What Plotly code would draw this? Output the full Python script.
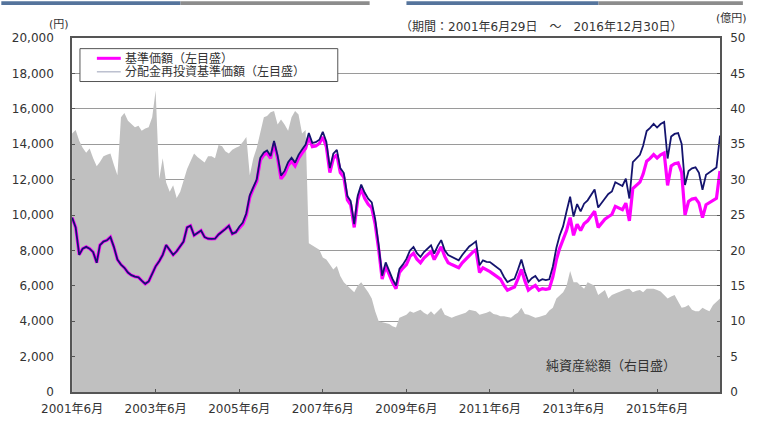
import pandas as pd
import plotly.graph_objects as go

# 基準価額 (円), monthly, 2001/6 - 2016/12
nav = [
    9850, 9300, 7750, 8100, 8200, 8100, 7900, 7300, 8300, 8500, 8570, 8750,
    8200, 7480, 7200, 7020, 6750, 6600, 6520, 6480, 6290, 6110, 6250, 6700,
    7100, 7390, 7750, 8300, 8000, 7750, 7950, 8200, 8500, 9300, 9390, 8850,
    9000, 9120, 8750, 8660, 8650, 8660, 8900, 9050, 9200, 9390, 8940, 9030,
    9250, 9480, 10000, 11000, 11500, 11900, 13100, 13400, 13500, 13200, 14040, 13220,
    12040, 12310, 12800, 13040, 12770, 13200, 13500, 13770, 14410, 13860, 13900, 14040,
    14410, 13860, 12400, 13200, 13410, 12400, 12130, 10850, 10580, 9300, 10850, 11490,
    10940, 10600, 10400, 9480, 8030, 6380, 7110, 6570, 6200, 5840, 6750, 7000,
    7200, 7660, 7840, 7500, 7300, 7570, 7750, 7930, 7480, 7900, 8210, 7660,
    7300, 7200, 7110, 7020, 7300, 7500, 7750, 7900, 8030, 6750, 7020, 6930,
    6800, 6660, 6500, 6380, 6020, 5750, 5850, 5930, 6380, 6930, 6290, 5750,
    5900, 6020, 5750, 5840, 5800, 5840, 6500, 7480, 8100, 8600, 9120, 9850,
    8850, 9480, 9120, 9500, 9670, 9940, 10210, 9300, 9500, 9760, 9900, 10030,
    10490, 10400, 10300, 10670, 9670, 11490, 11700, 11860, 12310, 13040, 13200, 13410,
    13220, 13400, 13500, 11670, 12770, 12900, 12950, 12400, 10000, 10760, 10900, 10940,
    10670, 9850, 10580, 10700, 10850, 10940, 12490,
]

# 分配金再投資基準価額 (円)
nav_reinv = [
    9850, 9300, 7750, 8100, 8200, 8100, 7900, 7300, 8300, 8500, 8570, 8750,
    8200, 7480, 7200, 7020, 6750, 6600, 6520, 6480, 6290, 6110, 6250, 6700,
    7100, 7390, 7750, 8300, 8000, 7750, 7950, 8200, 8500, 9300, 9390, 8850,
    9000, 9120, 8750, 8660, 8650, 8660, 8900, 9050, 9200, 9390, 8940, 9030,
    9340, 9570, 10100, 11110, 11620, 12020, 13230, 13530, 13640, 13330, 14180, 13350,
    12220, 12490, 12990, 13240, 12960, 13400, 13700, 13980, 14630, 14070, 14110, 14250,
    14700, 14140, 12650, 13460, 13680, 12650, 12370, 11070, 10790, 9490, 11070, 11720,
    11270, 10920, 10710, 9760, 8270, 6570, 7320, 6770, 6390, 6020, 6950, 7210,
    7520, 8000, 8190, 7840, 7630, 7910, 8100, 8290, 7820, 8260, 8580, 8000,
    7740, 7630, 7540, 7440, 7740, 7950, 8220, 8370, 8510, 7160, 7440, 7350,
    7340, 7190, 7020, 6890, 6500, 6210, 6320, 6400, 6890, 7480, 6790, 6210,
    6430, 6560, 6270, 6370, 6320, 6370, 7090, 8150, 8830, 9370, 10210, 11030,
    9910, 10620, 10210, 10640, 10830, 11130, 11440, 10420, 10640, 10930, 11190, 11330,
    11850, 11750, 11640, 12060, 10930, 12980, 13220, 13400, 13910, 14740, 14920, 15150,
    14940, 15140, 15260, 13190, 14430, 14580, 14630, 14010, 11700, 12480, 12640, 12690,
    12380, 11430, 12270, 12410, 12590, 12690, 14490,
]

# 純資産総額 (億円)
assets = [
    36.5, 37.0, 35.5, 34.5, 33.8, 34.4, 33.0, 31.9, 32.5, 33.3, 33.5, 33.7,
    32.1, 30.6, 38.8, 39.4, 38.3, 37.8, 37.4, 37.6, 36.9, 37.2, 37.4, 38.8,
    42.6, 30.1, 33.0, 29.6, 28.3, 29.2, 27.4, 28.3, 30.0, 31.5, 32.6, 33.7,
    33.2, 32.8, 32.4, 33.3, 33.3, 33.0, 34.9, 34.7, 34.0, 33.7, 34.2, 34.5,
    34.7, 35.3, 36.0, 30.6, 33.0, 34.5, 36.9, 38.8, 39.0, 39.5, 39.7, 37.8,
    38.5, 37.8, 36.9, 38.8, 39.7, 39.2, 36.5, 37.0, 21.0, 20.7, 20.5, 20.1,
    19.0, 18.7, 18.0, 17.3, 17.8, 16.4, 15.5, 15.0, 14.6, 14.1, 15.0, 15.5,
    14.8, 14.1, 13.2, 11.4, 10.0, 9.9, 9.8, 9.6, 9.3, 9.1, 10.5, 10.7,
    10.9, 11.4, 11.2, 11.4, 11.6, 11.2, 10.9, 11.4, 10.9, 11.4, 11.9, 10.9,
    10.7, 10.5, 10.7, 10.9, 11.0, 11.2, 11.6, 11.5, 11.4, 10.9, 11.0, 11.2,
    11.4, 11.0, 10.9, 10.7, 10.7, 10.6, 10.5, 10.9, 11.2, 11.9, 11.0, 10.9,
    10.7, 10.5, 10.6, 10.7, 10.9, 11.5, 11.9, 13.2, 13.6, 14.1, 15.0, 17.1,
    15.5, 15.5, 15.0, 14.6, 15.5, 15.2, 15.0, 13.7, 14.0, 14.4, 13.2, 13.7,
    13.9, 14.1, 14.4, 14.5, 14.6, 14.1, 14.3, 14.4, 14.1, 14.6, 14.6, 14.6,
    14.4, 14.2, 13.7, 13.2, 13.5, 13.7, 12.8, 11.9, 12.0, 12.3, 11.6, 11.4,
    11.4, 11.9, 11.6, 11.4, 12.3, 12.7, 13.2,
]

tick_dates = ["2001-06-30", "2003-06-30", "2005-06-30", "2007-06-30",
              "2009-06-30", "2011-06-30", "2013-06-30", "2015-06-30"]
tick_text = ["2001年6月", "2003年6月", "2005年6月", "2007年6月",
             "2009年6月", "2011年6月", "2013年6月", "2015年6月"]
left_ticks = list(range(0, 20001, 2000))
left_text = [f"{v:,}" for v in left_ticks]
right_ticks = list(range(0, 51, 5))

dates = pd.date_range("2001-06-01", periods=len(nav), freq="MS") + pd.offsets.MonthEnd(0)

FONT = "DejaVu Sans, Noto Sans CJK JP, sans-serif"
TXT = "#333333"
MAGENTA = "#ff00ff"
NAVY = "#14146e"
AXC = "#555555"

fig = go.Figure()
# net assets on the primary (right-side) axis so it sits beneath the lines
fig.add_trace(go.Scatter(x=dates, y=assets, yaxis="y", mode="lines",
                         line=dict(width=0, color="#c0c0c0"), fill="tozeroy",
                         fillcolor="#c0c0c0", name="純資産総額（右目盛）", showlegend=False))
fig.add_trace(go.Scatter(x=dates, y=nav, yaxis="y2", mode="lines",
                         line=dict(width=3.2, color=MAGENTA), name="基準価額（左目盛）", showlegend=False))
fig.add_trace(go.Scatter(x=dates, y=nav_reinv, yaxis="y2", mode="lines",
                         line=dict(width=1.8, color=NAVY), name="分配金再投資基準価額（左目盛）",
                         showlegend=False))

W, H = 757, 428
L, R, T, B = 71, 35, 38, 24
pw, ph = W - L - R, H - T - B


def px(xp):
    return (xp - L) / pw


def py(yp):
    return (H - B - yp) / ph


fig.update_layout(
    width=W, height=H,
    margin=dict(l=L, r=R, t=T, b=B),
    paper_bgcolor="white", plot_bgcolor="white",
    showlegend=False,
    font=dict(family=FONT, size=10, color=TXT),
    xaxis=dict(type="date", range=["2001-06-29", "2016-12-31"],
               tickvals=tick_dates, ticktext=tick_text,
               ticks="inside", ticklen=3, tickcolor=AXC,
               showline=True, linecolor=AXC, linewidth=1.5, mirror=True,
               showgrid=False, zeroline=False, ticklabelstandoff=5,
               tickfont=dict(size=12, family=FONT, color=TXT)),
    yaxis=dict(range=[0, 50], tickvals=right_ticks, side="right",
               showgrid=False, ticks="inside", ticklen=3, tickcolor=AXC,
               showline=True, linecolor=AXC, linewidth=1.5, zeroline=False,
               ticklabelstandoff=6,
               tickfont=dict(size=12, family=FONT, color=TXT)),
    yaxis2=dict(range=[0, 20000], tickvals=left_ticks, ticktext=left_text,
                overlaying="y", side="left",
                showgrid=True, gridcolor="#9a9a9a", gridwidth=1,
                ticks="inside", ticklen=3, tickcolor=AXC,
                showline=True, linecolor=AXC, linewidth=1.5,
                zeroline=False, ticklabelstandoff=14,
                tickfont=dict(size=12, family=FONT, color=TXT)),
)

shapes = []
# top decorative strip
for x0, x1, c in [(0, 180, "#55749c"), (180, 370, "#8c8c8c"), (407, 600, "#55749c"), (600, 745, "#8c8c8c")]:
    shapes.append(dict(type="rect", xref="paper", yref="paper",
                       x0=px(x0), x1=px(x1), y0=py(4), y1=py(0),
                       fillcolor=c, line=dict(width=0), layer="above"))
# legend box
shapes.append(dict(type="rect", xref="paper", yref="paper",
                   x0=px(79), x1=px(338), y0=py(83), y1=py(49),
                   fillcolor="white", line=dict(color=AXC, width=1), layer="above"))
shapes.append(dict(type="line", xref="paper", yref="paper",
                   x0=px(96), x1=px(120), y0=py(59), y1=py(59),
                   line=dict(color=MAGENTA, width=3), layer="above"))
shapes.append(dict(type="line", xref="paper", yref="paper",
                   x0=px(96), x1=px(120), y0=py(73), y1=py(73),
                   line=dict(color="#9aa0b8", width=1), layer="above"))
fig.update_layout(shapes=shapes)

ann = []


def add_text(text, x, y, xanchor="left", size=11):
    ann.append(dict(text=text, xref="paper", yref="paper", x=px(x), y=py(y),
                    xanchor=xanchor, yanchor="middle", showarrow=False,
                    font=dict(family=FONT, size=size, color=TXT)))


add_text("基準価額（左目盛）", 122, 59, size=12)
add_text("分配金再投資基準価額（左目盛）", 122, 73, size=12)
add_text("(円)", 58, 24, xanchor="center", size=11)
add_text("(億円)", 734, 18, xanchor="center", size=11)
add_text("（期間：2001年6月29日　～　2016年12月30日）", 543, 27, xanchor="center", size=12)
add_text("純資産総額（右目盛）", 612, 377, xanchor="center", size=13)
fig.update_layout(annotations=ann)

fig.write_html("out.html", config={"displayModeBar": False},
               post_script="document.body.style.margin='0';")
